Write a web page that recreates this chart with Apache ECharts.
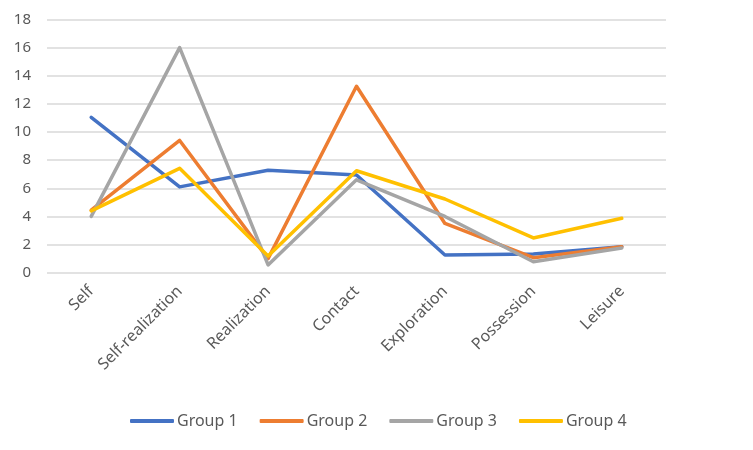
<!DOCTYPE html>
<html>
<head>
<meta charset="utf-8">
<script src="https://cdn.jsdelivr.net/npm/echarts@6/dist/echarts.min.js"></script>
<style>
  html, body { margin: 0; padding: 0; background: #fff; }
  #chart { width: 753px; height: 450px; }
</style>
</head>
<body>
<div id="chart"></div>
<script>
var categories = ['Self', 'Self-realization', 'Realization', 'Contact', 'Exploration', 'Possession', 'Leisure']
var group1 = [11.05, 6.1, 7.28, 6.95, 1.26, 1.33, 1.85]
var group2 = [4.45, 9.4, 1.0, 13.25, 3.5, 1.07, 1.85]
var group3 = [4.0, 16.0, 0.55, 6.6, 4.0, 0.78, 1.75]
var group4 = [4.4, 7.42, 1.19, 7.25, 5.24, 2.47, 3.87]
var seriesNames = ['Group 1', 'Group 2', 'Group 3', 'Group 4']
var seriesColors = ['#4472C4', '#ED7D31', '#A5A5A5', '#FFC000']

var chart = echarts.init(document.getElementById('chart'))
var allData = [group1, group2, group3, group4]

chart.setOption({
  animation: false,
  textStyle: { fontFamily: 'Noto Sans, Liberation Sans, sans-serif' },
  grid: {
    left: 47,
    right: 87,
    top: 19.5,
    bottom: 177.3
  },
  legend: {
    left: 125,
    top: 408,
    icon: 'roundRect',
    itemWidth: 44,
    itemHeight: 4,
    itemGap: 22,
    textStyle: { color: '#595959', fontSize: 16, padding: [0, 0, 0, -2] },
    data: seriesNames
  },
  xAxis: {
    type: 'category',
    data: categories,
    boundaryGap: true,
    axisLine: { show: false },
    axisTick: { show: false },
    axisLabel: {
      rotate: 45,
      color: '#595959',
      fontSize: 16,
      margin: 16
    }
  },
  yAxis: {
    type: 'value',
    min: 0,
    max: 18,
    interval: 2,
    axisLine: { show: false },
    axisTick: { show: false },
    axisLabel: { color: '#595959', fontSize: 15, margin: 16 },
    splitLine: { lineStyle: { color: '#D9D9D9', width: 1.5 } }
  },
  series: allData.map(function (d, i) {
    return {
      name: seriesNames[i],
      type: 'line',
      data: d,
      showSymbol: false,
      symbol: 'none',
      color: seriesColors[i],
      lineStyle: { width: 3.5, color: seriesColors[i], cap: 'round', join: 'round' }
    }
  })
})
</script>
</body>
</html>
